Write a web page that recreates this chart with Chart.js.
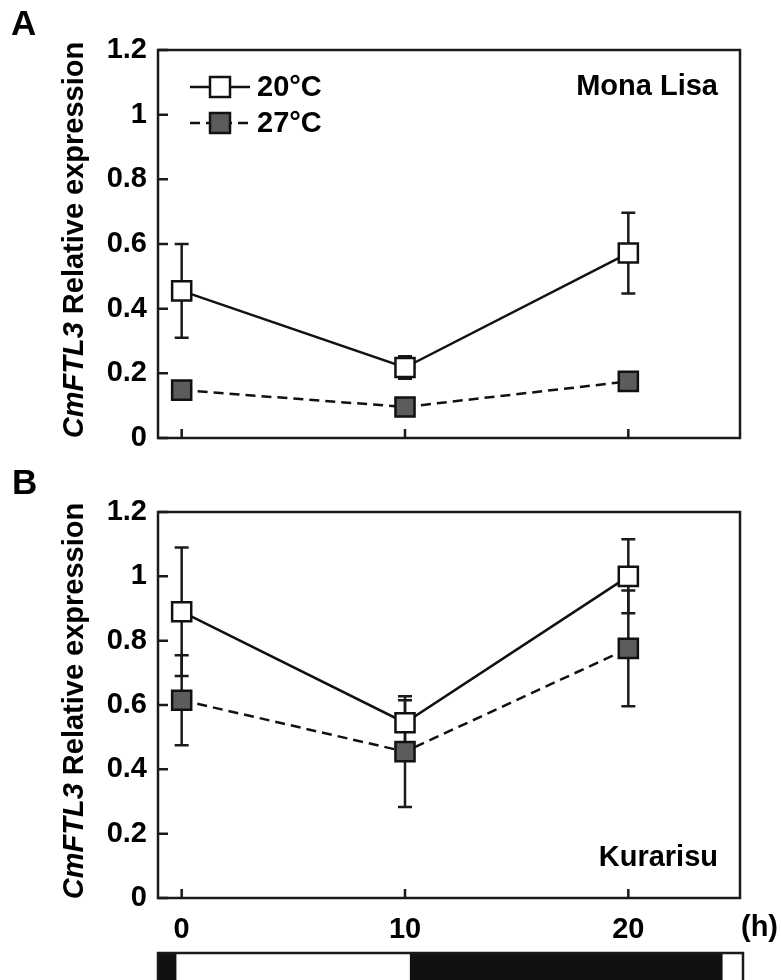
<!DOCTYPE html>
<html>
<head>
<meta charset="utf-8">
<script src="https://cdn.jsdelivr.net/npm/chart.js@4.4.0/dist/chart.umd.min.js"></script>
<style>
  body { margin: 0; background: #fff; overflow: hidden; }
  #wrap { position: relative; width: 781px; height: 980px; background: #fff; }
  canvas { position: absolute; left: 0; }
  #chartA { top: 0; }
  #chartB { top: 470px; }
  #photo { top: 950px; }
</style>
</head>
<body>
<div id="wrap">
  <canvas id="chartA" width="781" height="470"></canvas>
  <canvas id="chartB" width="781" height="480"></canvas>
  <canvas id="photo" width="781" height="40"></canvas>
</div>
<script>
"use strict";

// data
const hours = [0, 10, 20];
const xTicks = [0, 10, 20];
const yTicks = [0, 0.2, 0.4, 0.6, 0.8, 1, 1.2];
const legendLabels = ['20°C', '27°C'];

// A - Mona Lisa
const monaLisa20 = [0.455, 0.218, 0.572];
const monaLisa20Err = [0.145, 0.035, 0.125];
const monaLisa27 = [0.148, 0.096, 0.175];
const monaLisa27Err = [0, 0, 0];

// B - Kurarisu
const kurarisu20 = [0.89, 0.545, 1.0];
const kurarisu20Err = [0.2, 0.07, 0.115];
const kurarisu27 = [0.615, 0.455, 0.776];
const kurarisu27Err = [0.14, 0.172, 0.18];

// light / dark bar (h)
const periodStart = [-1.06, -0.25, 10.2, 24.2];
const periodEnd = [-0.25, 10.2, 24.2, 25.13];
const periodDark = [true, false, true, false];

const X_MIN = -1.06, X_MAX = 25.0;
const FONT = "'Liberation Sans', Arial, sans-serif";
const LW = 2.5;

Chart.defaults.font.family = FONT;
Chart.defaults.color = '#000';

// frame, inner ticks, error bars
const decoPlugin = {
  id: 'deco',
  beforeDatasetsDraw(chart) {
    const { ctx, chartArea: a, scales: { x, y } } = chart;
    ctx.save();
    ctx.strokeStyle = '#1a1a1a';
    ctx.lineWidth = LW;
    ctx.strokeRect(a.left, a.top, a.right - a.left, a.bottom - a.top);

    ctx.beginPath();
    y.ticks.forEach(t => {
      const py = y.getPixelForValue(t.value);
      ctx.moveTo(a.left, py); ctx.lineTo(a.left + 10, py);
    });
    x.ticks.forEach(t => {
      const px = x.getPixelForValue(t.value);
      ctx.moveTo(px, a.bottom); ctx.lineTo(px, a.bottom - 9);
    });
    ctx.stroke();

    // error bars under the markers
    chart.data.datasets.forEach(ds => {
      ds.data.forEach((p, i) => {
        const e = ds.err[i];
        if (!e) return;
        const px = x.getPixelForValue(p.x);
        const yt = y.getPixelForValue(p.y + e);
        const yb = y.getPixelForValue(p.y - e);
        ctx.beginPath();
        ctx.moveTo(px, yt); ctx.lineTo(px, yb);
        ctx.moveTo(px - 7, yt); ctx.lineTo(px + 7, yt);
        ctx.moveTo(px - 7, yb); ctx.lineTo(px + 7, yb);
        ctx.stroke();
      });
    });
    ctx.restore();
  },
  afterDraw(chart, args, opts) {
    const { ctx, chartArea: a } = chart;
    ctx.save();
    ctx.fillStyle = '#000';
    ctx.textBaseline = 'middle';

    // panel letter
    ctx.font = 'bold 35px ' + FONT;
    ctx.textAlign = 'left';
    ctx.fillText(opts.letter, opts.letterX, opts.letterY);

    // cultivar name
    ctx.font = 'bold 29px ' + FONT;
    ctx.textAlign = 'right';
    const cy = opts.nameAtTop ? a.top + 37 : a.bottom - 40;
    ctx.fillText(opts.name, a.right - 22, cy);

    // y title, italic gene name
    const f1 = 'italic bold 29px ' + FONT, f2 = 'bold 29px ' + FONT;
    const t1 = 'CmFTL3', t2 = ' Relative expression';
    ctx.font = f1; const w1 = ctx.measureText(t1).width;
    ctx.font = f2; const w2 = ctx.measureText(t2).width;
    ctx.translate(75, (a.top + a.bottom) / 2 - 4);
    ctx.rotate(-Math.PI / 2);
    ctx.textAlign = 'left';
    ctx.font = f1; ctx.fillText(t1, -(w1 + w2) / 2, 0);
    ctx.font = f2; ctx.fillText(t2, -(w1 + w2) / 2 + w1, 0);
    ctx.setTransform(1, 0, 0, 1, 0, 0);

    if (opts.legend) {
      ctx.lineWidth = LW;
      ctx.strokeStyle = '#111';
      chart.data.datasets.forEach((ds, i) => {
        const ly = a.top + 37 + i * 36;
        ctx.setLineDash(ds.borderDash || []);
        ctx.beginPath();
        ctx.moveTo(a.left + 32, ly); ctx.lineTo(a.left + 92, ly);
        ctx.stroke();
        ctx.setLineDash([]);
        ctx.fillStyle = ds.pointBackgroundColor;
        ctx.fillRect(a.left + 52, ly - 10, 20, 20);
        ctx.strokeRect(a.left + 52, ly - 10, 20, 20);
        ctx.fillStyle = '#000';
        ctx.font = 'bold 29px ' + FONT;
        ctx.textAlign = 'left';
        ctx.fillText(ds.label, a.left + 99, ly + 1);
      });
    }

    if (opts.unit) {
      ctx.font = 'bold 29px ' + FONT;
      ctx.textAlign = 'left';
      ctx.fillText('(h)', a.right + 1, a.bottom + 30);
    }
    ctx.restore();
  }
};

function makeSeries(label, values, err, dashed) {
  return {
    label: label,
    data: hours.map((h, i) => ({ x: h, y: values[i] })),
    err: err,
    borderColor: '#111',
    borderWidth: LW,
    borderDash: dashed ? [10, 6] : [],
    pointStyle: 'rect',
    pointRadius: 13.5,
    pointHoverRadius: 13.5,
    pointBackgroundColor: dashed ? '#5c5c5c' : '#fff',
    pointBorderColor: '#111',
    pointBorderWidth: LW,
    tension: 0
  };
}

function panelConfig(s20, e20, s27, e27, showX, padding, deco) {
  return {
    type: 'line',
    data: {
      datasets: [
        makeSeries(legendLabels[0], s20, e20, false),
        makeSeries(legendLabels[1], s27, e27, true)
      ]
    },
    options: {
      responsive: false,
      animation: false,
      devicePixelRatio: 1,
      layout: { padding: padding },
      scales: {
        x: {
          type: 'linear', min: X_MIN, max: X_MAX,
          afterBuildTicks: s => { s.ticks = xTicks.map(v => ({ value: v })); },
          afterFit: s => { s.height = showX ? 52 : 0; },
          grid: { display: false, drawTicks: false },
          border: { display: false },
          ticks: { display: showX, font: { size: 29, weight: 'bold' }, color: '#000', padding: 15, maxRotation: 0,
                   callback: v => String(v) }
        },
        y: {
          type: 'linear', min: 0, max: 1.2,
          afterBuildTicks: s => { s.ticks = yTicks.map(v => ({ value: v })); },
          afterFit: s => { s.width = 158; },
          grid: { display: false, drawTicks: false },
          border: { display: false },
          ticks: { font: { size: 29, weight: 'bold' }, color: '#000', padding: 11,
                   callback: v => String(v) }
        }
      },
      plugins: {
        legend: { display: false },
        tooltip: { enabled: false },
        deco: deco
      }
    },
    plugins: [decoPlugin]
  };
}

new Chart(document.getElementById('chartA'),
  panelConfig(monaLisa20, monaLisa20Err, monaLisa27, monaLisa27Err, false,
    { top: 50, right: 41, bottom: 32, left: 0 },
    { letter: 'A', letterX: 11, letterY: 25, name: 'Mona Lisa', nameAtTop: true, legend: true, unit: false }));

new Chart(document.getElementById('chartB'),
  panelConfig(kurarisu20, kurarisu20Err, kurarisu27, kurarisu27Err, true,
    { top: 42, right: 41, bottom: 0, left: 0 },
    { letter: 'B', letterX: 12, letterY: 14, name: 'Kurarisu', nameAtTop: false, legend: false, unit: true }));

// photoperiod bar
const barFrame = {
  id: 'barFrame',
  afterDraw(chart) {
    const { ctx, chartArea: a } = chart;
    ctx.save();
    ctx.strokeStyle = '#1a1a1a';
    ctx.lineWidth = LW;
    ctx.strokeRect(a.left, a.top, a.right - a.left, a.bottom - a.top + 10);
    ctx.restore();
  }
};

new Chart(document.getElementById('photo'), {
  type: 'bar',
  data: {
    labels: ['period'],
    datasets: periodStart.map((s, i) => ({
      data: [[s, periodEnd[i]]],
      backgroundColor: periodDark[i] ? '#111' : '#fff',
      borderWidth: 0,
      barPercentage: 1,
      categoryPercentage: 1,
      grouped: false
    }))
  },
  options: {
    indexAxis: 'y',
    responsive: false,
    animation: false,
    devicePixelRatio: 1,
    layout: { padding: { left: 158, right: 38, top: 3, bottom: 0 } },
    scales: {
      x: { type: 'linear', min: X_MIN, max: 25.13, display: false },
      y: { display: false }
    },
    plugins: { legend: { display: false }, tooltip: { enabled: false } }
  },
  plugins: [barFrame]
});
</script>
</body>
</html>
